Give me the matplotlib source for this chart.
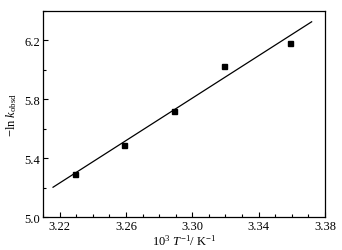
import matplotlib
matplotlib.use("Agg")
import matplotlib.pyplot as plt
from matplotlib.ticker import MultipleLocator
import numpy as np

plt.rcParams["font.family"] = ["Liberation Serif", "DejaVu Serif"]
plt.rcParams["mathtext.fontset"] = "custom"
plt.rcParams["mathtext.rm"] = "Liberation Serif"
plt.rcParams["mathtext.it"] = "Liberation Serif:italic"

# 数据
inv_T = np.array([3.229, 3.259, 3.289, 3.319, 3.359])
neg_ln_k = np.array([5.293, 5.490, 5.720, 6.030, 6.184])
fit_range = [3.216, 3.372]

fig = plt.figure(figsize=(3.42, 2.51), dpi=100)
ax = fig.add_axes([0.126, 0.131, 0.824, 0.821])

# 线性拟合
k, b = np.polyfit(inv_T, neg_ln_k, 1)
xf = np.array(fit_range)
ax.plot(xf, k * xf + b, color="black", linewidth=0.9)
ax.plot(inv_T, neg_ln_k, "s", color="black", markersize=3.6)

ax.set_xlim(3.21, 3.38)
ax.set_ylim(5.0, 6.4)
ax.xaxis.set_major_locator(MultipleLocator(0.04, offset=0.02))
ax.xaxis.set_minor_locator(MultipleLocator(0.01))
ax.yaxis.set_major_locator(MultipleLocator(0.4, offset=0.2))
ax.yaxis.set_minor_locator(MultipleLocator(0.2))
ax.xaxis.set_major_formatter(plt.FormatStrFormatter("%.2f"))
ax.yaxis.set_major_formatter(plt.FormatStrFormatter("%.1f"))
ax.tick_params(which="both", direction="in", labelsize=9, width=0.8, pad=2)
ax.tick_params(which="major", length=3.5)
ax.tick_params(which="minor", length=2)
for s in ax.spines.values():
    s.set_linewidth(0.9)

ax.set_xlabel(r"10$^3$ $\mathit{T}^{-1}$/ K$^{-1}$", fontsize=9, labelpad=1)
ax.set_ylabel(r"$-$ln $\mathit{k}_{\rm obsd}$", fontsize=9, labelpad=4)

fig.savefig("out.png", dpi=100, facecolor="white")
